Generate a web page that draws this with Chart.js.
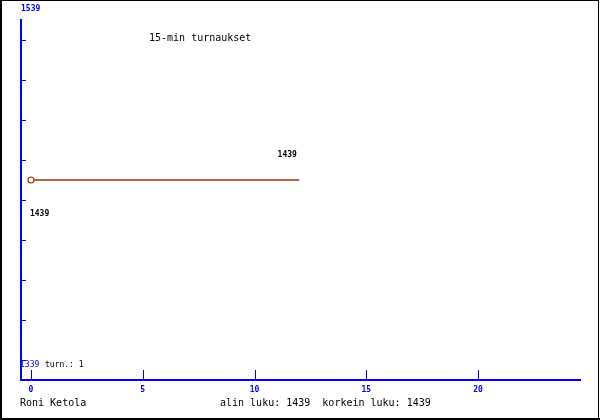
<!DOCTYPE html>
<html>
<head>
<title>15-min turnaukset</title>
<script src="https://cdn.jsdelivr.net/npm/chart.js"></script>
<style>
    body { margin: 0; background: #fff; }
    canvas { display: block; }
</style>
</head>
<body>
<canvas id="turnChart" width="600" height="420"></canvas>
<script>
// data
const turnX = [0, 12];
const turnValues = [1439, 1439];
const pointSizes = [3, 0];
const xTickValues = [0, 5, 10, 15, 20];
const yTickValues = [1526.5, 1501.5, 1476.5, 1451.5, 1426.5, 1401.5, 1376.5, 1351.5, 1326.5];
const xMin = -0.447, xMax = 24.56;
const yMin = 1314, yMax = 1539;
const yTopLabel = '1539';
const yBottomLabel = '1339';
const titleText = '15-min turnaukset';
const playerName = 'Roni Ketola';
const turnText = 'turn.: 1';
const lowest = 1439, highest = 1439;

const mono = '"DejaVu Sans Mono", monospace';
const brown = '#993300';
const blue = '#0000ff';

const extras = {
    id: 'extras',
    afterDraw(chart) {
        const ctx = chart.ctx;
        const x = chart.scales.x, y = chart.scales.y;
        const area = chart.chartArea;
        ctx.save();

        // tick-viivat akselien sisäpuolelle
        ctx.strokeStyle = blue;
        ctx.lineWidth = 1;
        ctx.beginPath();
        xTickValues.forEach(v => {
            const px = Math.round(x.getPixelForValue(v)) + 0.5;
            ctx.moveTo(px, area.bottom);
            ctx.lineTo(px, area.bottom - 10);
        });
        yTickValues.forEach(v => {
            const py = Math.round(y.getPixelForValue(v)) + 0.5;
            ctx.moveTo(area.left, py);
            ctx.lineTo(area.left + 5, py);
        });
        ctx.stroke();

        ctx.textBaseline = 'middle';
        ctx.textAlign = 'left';

        // y-akselin rajat
        ctx.fillStyle = blue;
        ctx.font = 'bold 8px ' + mono;
        ctx.fillText(yTopLabel, area.left, area.top - 11);
        ctx.font = '8px ' + mono;
        ctx.fillText(yBottomLabel, area.left - 1, area.bottom - 15);

        ctx.fillStyle = '#000';
        ctx.fillText(turnText, area.left + 24, area.bottom - 15);

        // arvot viivan päissä
        ctx.font = 'bold 8px ' + mono;
        const pts = chart.getDatasetMeta(0).data;
        const first = pts[0], last = pts[pts.length - 1];
        ctx.fillText(String(turnValues[0]), first.x - 1, first.y + 34);
        ctx.textAlign = 'center';
        ctx.fillText(String(turnValues[turnValues.length - 1]), last.x - 12, last.y - 25);

        // otsikko ja alateksti
        ctx.textAlign = 'left';
        ctx.font = '10px ' + mono;
        ctx.fillText(titleText, 149, 38);
        ctx.fillText(playerName, 20, 403);
        ctx.fillText('alin luku: ' + lowest + '  korkein luku: ' + highest, 220, 403);

        // kehys
        ctx.strokeStyle = '#000';
        ctx.lineWidth = 1;
        ctx.strokeRect(0.5, 0.5, 598, 418);
        ctx.lineWidth = 2;
        ctx.beginPath();
        ctx.moveTo(1, 0); ctx.lineTo(1, 420);
        ctx.moveTo(0, 419); ctx.lineTo(600, 419);
        ctx.stroke();
        ctx.restore();
    }
};

new Chart(document.getElementById('turnChart').getContext('2d'), {
    type: 'line',
    data: {
        datasets: [{
            data: turnX.map((v, i) => ({x: v, y: turnValues[i]})),
            borderColor: brown,
            borderWidth: 1.5,
            pointRadius: pointSizes,
            pointBorderColor: brown,
            pointBackgroundColor: '#fff',
            pointBorderWidth: 1.2,
            fill: false,
            tension: 0
        }]
    },
    options: {
        responsive: false,
        animation: false,
        layout: { padding: { left: 21, top: 20, right: 20, bottom: 0 } },
        plugins: { legend: { display: false }, tooltip: { enabled: false } },
        scales: {
            x: {
                type: 'linear',
                min: xMin,
                max: xMax,
                afterFit: s => { s.height = 40; },
                afterBuildTicks: s => { s.ticks = xTickValues.map(v => ({value: v})); },
                grid: { display: false, drawTicks: false },
                border: { display: true, color: blue, width: 2 },
                ticks: {
                    color: blue,
                    font: { family: mono, size: 8, weight: 'bold' },
                    padding: 5,
                    maxRotation: 0
                }
            },
            y: {
                min: yMin,
                max: yMax,
                afterFit: s => { s.width = 0; },
                grid: { display: false, drawTicks: false },
                border: { display: true, color: blue, width: 2 },
                ticks: { display: false }
            }
        }
    },
    plugins: [extras]
});
</script>
</body>
</html>
